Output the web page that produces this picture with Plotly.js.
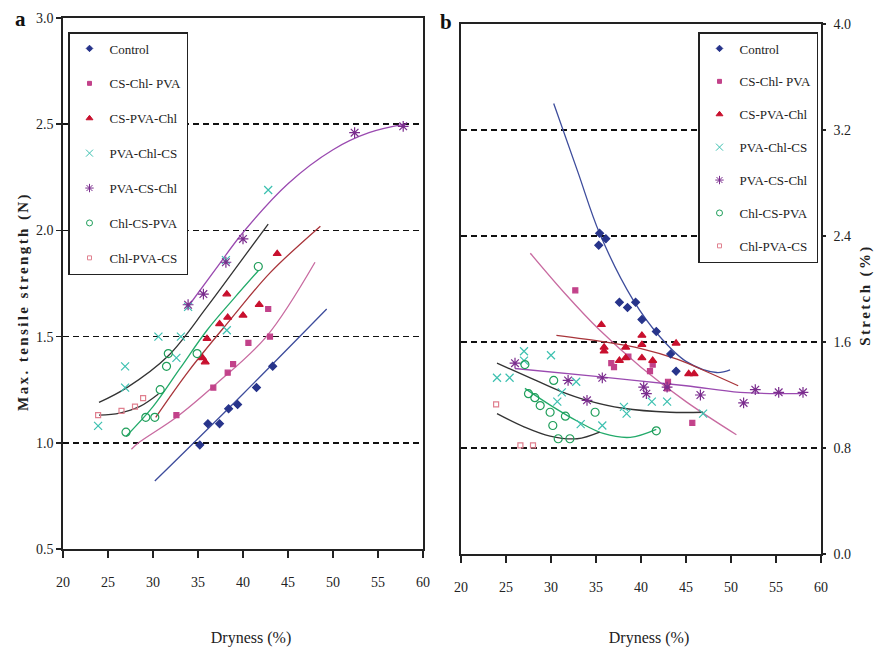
<!DOCTYPE html>
<html>
<head>
<meta charset="utf-8">
<script src="https://cdn.plot.ly/plotly-3.0.1.min.js"></script>
<style>
html,body{margin:0;padding:0;background:#fff;}
#chart{width:874px;height:653px;}
.ytitle { letter-spacing: 2.4px; translate: 0 18px; }
.y2title { letter-spacing: 2.4px; translate: 0 6px; }
.xtitle, .x2title { translate: 8px 0; }
</style>
</head>
<body>
<div id="chart"></div>
<script>
// ---------- Panel a : Max. tensile strength (N) ----------
const seriesNames = ['Control','CS-Chl- PVA','CS-PVA-Chl','PVA-Chl-CS','PVA-CS-Chl','Chl-CS-PVA','Chl-PVA-CS'];

const ctrlA_x = [35.2, 36.1, 37.4, 38.4, 39.4, 41.5, 43.3];
const ctrlA_y = [0.99, 1.09, 1.09, 1.16, 1.18, 1.26, 1.36];
const ctrlA_fx = [30.2, 40.0, 49.3];
const ctrlA_fy = [0.82, 1.23, 1.63];

const csChlPvaA_x = [32.6, 36.7, 38.3, 38.9, 40.6, 43.0, 42.8];
const csChlPvaA_y = [1.13, 1.26, 1.33, 1.37, 1.47, 1.50, 1.63];
const csChlPvaA_fx = [27.6, 28.4, 32.6, 37.1, 42.6, 48.0];
const csChlPvaA_fy = [0.97, 1.00, 1.12, 1.28, 1.50, 1.85];

const csPvaChlA_x = [35.5, 35.8, 36.0, 37.4, 38.3, 38.2, 40.0, 41.8, 43.8];
const csPvaChlA_y = [1.40, 1.38, 1.49, 1.56, 1.59, 1.70, 1.60, 1.65, 1.89];
const csPvaChlA_fx = [30.3, 34.0, 38.6, 43.0, 48.6];
const csPvaChlA_fy = [1.12, 1.34, 1.58, 1.80, 2.02];

const pvaChlCsA_x = [23.9, 26.9, 26.9, 30.6, 32.6, 33.1, 33.9, 38.2, 38.1, 42.8];
const pvaChlCsA_y = [1.08, 1.36, 1.26, 1.50, 1.40, 1.50, 1.64, 1.53, 1.86, 2.19];
const pvaChlCsA_fx = [24.0, 27.1, 31.7, 36.0, 39.5, 42.8];
const pvaChlCsA_fy = [1.19, 1.26, 1.41, 1.64, 1.84, 2.03];

const pvaCsChlA_x = [33.9, 35.6, 38.1, 40.0, 52.4, 57.8];
const pvaCsChlA_y = [1.65, 1.70, 1.85, 1.96, 2.46, 2.49];
const pvaCsChlA_fx = [33.7, 37.0, 40.0, 45.0, 50.0, 54.0, 58.0];
const pvaCsChlA_fy = [1.63, 1.82, 1.99, 2.22, 2.38, 2.46, 2.50];

const chlCsPvaA_x = [27.0, 29.2, 30.2, 30.8, 31.5, 31.7, 34.9, 41.7];
const chlCsPvaA_y = [1.05, 1.12, 1.12, 1.25, 1.36, 1.42, 1.42, 1.83];
const chlCsPvaA_fx = [27.0, 30.0, 33.0, 36.0, 39.0, 41.7];
const chlCsPvaA_fy = [1.03, 1.17, 1.35, 1.53, 1.68, 1.81];

const chlPvaCsA_x = [23.9, 26.5, 28.0, 28.9];
const chlPvaCsA_y = [1.13, 1.15, 1.17, 1.21];
const chlPvaCsA_fx = [24.0, 26.3, 28.5, 30.6];
const chlPvaCsA_fy = [1.13, 1.14, 1.17, 1.23];

// ---------- Panel b : Stretch (%) ----------
const ctrlB_x = [35.3, 35.4, 36.1, 37.6, 38.5, 39.4, 40.1, 41.7, 43.3, 43.9];
const ctrlB_y = [2.33, 2.42, 2.38, 1.90, 1.86, 1.90, 1.77, 1.68, 1.51, 1.38];
const ctrlB_fx = [30.3, 33.0, 35.4, 39.1, 42.1, 45.1, 48.4, 49.9];
const ctrlB_fy = [3.40, 2.88, 2.42, 1.92, 1.64, 1.45, 1.37, 1.39];

const csChlPvaB_x = [32.7, 36.7, 37.0, 38.6, 41.0, 41.3, 42.9, 43.0, 45.7];
const csChlPvaB_y = [1.99, 1.44, 1.41, 1.49, 1.38, 1.43, 1.25, 1.30, 0.99];
const csChlPvaB_fx = [27.7, 31.5, 35.4, 40.0, 45.0, 50.6];
const csChlPvaB_fy = [2.27, 1.97, 1.69, 1.41, 1.15, 0.90];

const csPvaChlB_x = [35.6, 35.9, 35.9, 37.6, 38.3, 38.3, 40.1, 40.1, 40.1, 41.3, 43.9, 45.3, 45.9];
const csPvaChlB_y = [1.73, 1.56, 1.53, 1.46, 1.56, 1.48, 1.65, 1.58, 1.48, 1.46, 1.59, 1.36, 1.36];
const csPvaChlB_fx = [30.6, 36.0, 40.0, 44.0, 47.5, 50.8];
const csPvaChlB_fy = [1.65, 1.60, 1.55, 1.47, 1.37, 1.27];

const pvaChlCsB_x = [24.0, 25.4, 27.0, 27.0, 30.0, 30.7, 31.2, 32.8, 33.3, 35.7, 38.1, 38.4, 41.2, 42.9, 46.9];
const pvaChlCsB_y = [1.33, 1.33, 1.53, 1.46, 1.50, 1.15, 1.22, 1.30, 0.98, 0.97, 1.11, 1.06, 1.15, 1.15, 1.06];
const pvaChlCsB_fx = [24.0, 28.0, 31.0, 34.0, 38.0, 43.2, 46.9];
const pvaChlCsB_fy = [1.44, 1.32, 1.23, 1.16, 1.10, 1.07, 1.07];

const pvaCsChlB_x = [26.0, 31.9, 34.0, 35.7, 40.3, 40.6, 42.9, 46.6, 51.4, 52.7, 55.3, 58.0];
const pvaCsChlB_y = [1.44, 1.31, 1.16, 1.33, 1.26, 1.21, 1.26, 1.20, 1.14, 1.24, 1.22, 1.22];
const pvaCsChlB_fx = [26.0, 35.0, 45.0, 51.0, 58.0];
const pvaCsChlB_fy = [1.40, 1.34, 1.27, 1.22, 1.21];

const chlCsPvaB_x = [27.1, 27.5, 28.2, 28.8, 29.9, 30.3, 30.2, 30.8, 31.6, 32.1, 34.9, 41.7];
const chlCsPvaB_y = [1.43, 1.21, 1.18, 1.12, 1.07, 1.31, 0.97, 0.87, 1.04, 0.87, 1.07, 0.93];
const chlCsPvaB_fx = [27.1, 30.0, 33.0, 35.8, 38.8, 41.7];
const chlCsPvaB_fy = [1.25, 1.12, 1.00, 0.91, 0.88, 0.94];

const chlPvaCsB_x = [23.9, 26.6, 28.0];
const chlPvaCsB_y = [1.13, 0.82, 0.82];
const chlPvaCsB_fx = [24.0, 27.0, 29.9, 32.9, 35.4];
const chlPvaCsB_fy = [1.06, 0.96, 0.89, 0.87, 0.92];

const xTicks = [20, 25, 30, 35, 40, 45, 50, 55, 60];
const yTicksA = [0.5, 1.0, 1.5, 2.0, 2.5, 3.0];
const yTicksB = [0.0, 0.8, 1.6, 2.4, 3.2, 4.0];

// ---------- styles ----------
const markerStyles = [
  {symbol:'diamond', size:6, color:'#27348b'},
  {symbol:'square', size:5, color:'#c2428a'},
  {symbol:'triangle-up', size:7, color:'#c8102e'},
  {symbol:'x-thin-open', size:8, color:'#3cc0b0'},
  {symbol:'asterisk-open', size:9, color:'#7b2d8e'},
  {symbol:'circle-open', size:8, color:'#1f9e5a'},
  {symbol:'square-open', size:5, color:'#e0808f'}
];
const legendSizes = [5, 4, 6, 7, 7, 6, 4];
const lineColors = ['#3d4c9c','#c86aa0','#a8343a','#333333','#9a4ab0','#22aa6a','#333333'];

const panelA = [
  [ctrlA_x, ctrlA_y, ctrlA_fx, ctrlA_fy],
  [csChlPvaA_x, csChlPvaA_y, csChlPvaA_fx, csChlPvaA_fy],
  [csPvaChlA_x, csPvaChlA_y, csPvaChlA_fx, csPvaChlA_fy],
  [pvaChlCsA_x, pvaChlCsA_y, pvaChlCsA_fx, pvaChlCsA_fy],
  [pvaCsChlA_x, pvaCsChlA_y, pvaCsChlA_fx, pvaCsChlA_fy],
  [chlCsPvaA_x, chlCsPvaA_y, chlCsPvaA_fx, chlCsPvaA_fy],
  [chlPvaCsA_x, chlPvaCsA_y, chlPvaCsA_fx, chlPvaCsA_fy]
];
const panelB = [
  [ctrlB_x, ctrlB_y, ctrlB_fx, ctrlB_fy],
  [csChlPvaB_x, csChlPvaB_y, csChlPvaB_fx, csChlPvaB_fy],
  [csPvaChlB_x, csPvaChlB_y, csPvaChlB_fx, csPvaChlB_fy],
  [pvaChlCsB_x, pvaChlCsB_y, pvaChlCsB_fx, pvaChlCsB_fy],
  [pvaCsChlB_x, pvaCsChlB_y, pvaCsChlB_fx, pvaCsChlB_fy],
  [chlCsPvaB_x, chlCsPvaB_y, chlCsPvaB_fx, chlCsPvaB_fy],
  [chlPvaCsB_x, chlPvaCsB_y, chlPvaCsB_fx, chlPvaCsB_fy]
];

const traces = [];
function addPanel(panel, xa, ya, leg, tag) {
  panel.forEach((s, i) => {
    traces.push({x:s[2], y:s[3], xaxis:xa, yaxis:ya, mode:'lines', type:'scatter',
      line:{color:lineColors[i], width:1.3, shape:'spline', smoothing:1},
      showlegend:false, hoverinfo:'skip'});
  });
  panel.forEach((s, i) => {
    const m = markerStyles[i];
    traces.push({x:s[0], y:s[1], xaxis:xa, yaxis:ya, mode:'markers', type:'scatter',
      name:seriesNames[i], showlegend:false,
      marker:{symbol:m.symbol, size:m.size, color:m.color, line:{color:m.color, width:1.2}}});
  });
  // legend entries (small key symbols, as in the original)
  panel.forEach((s, i) => {
    const m = markerStyles[i];
    traces.push({x:[null], y:[null], xaxis:xa, yaxis:ya, mode:'markers', type:'scatter',
      name:seriesNames[i], legend:leg, legendgroup:tag+i, showlegend:true,
      marker:{symbol:m.symbol, size:legendSizes[i], color:m.color, line:{color:m.color, width:1}}});
  });
}
addPanel(panelA, 'x', 'y', 'legend', 'a');
addPanel(panelB, 'x2', 'y2', 'legend2', 'b');

const W = 874, H = 653;
const SERIF = '"Liberation Serif", serif';
const tf = {family:SERIF, size:14, color:'#222'};
const axisCommon = {
  showline:true, linecolor:'#222', linewidth:1.8, mirror:true,
  ticks:'outside', tickcolor:'#222', tickwidth:1.5, zeroline:false, tickfont:tf
};
const legendCommon = {
  bgcolor:'#ffffff', bordercolor:'#222', borderwidth:1.5,
  font:{family:SERIF, size:13, color:'#222'},
  itemwidth:30, yanchor:'top', traceorder:'grouped'
};

const layout = {
  width:W, height:H,
  margin:{l:0, r:0, t:0, b:0},
  paper_bgcolor:'#ffffff', plot_bgcolor:'#ffffff',
  showlegend:true,
  xaxis: Object.assign({}, axisCommon, {
    domain:[63/W, 423/W], range:[20,60], tickvals:xTicks, ticklen:7, ticklabelstandoff:12,
    showgrid:false, anchor:'y',
    title:{text:'Dryness (%)', font:{family:SERIF, size:16, color:'#222'}, standoff:43}
  }),
  yaxis: Object.assign({}, axisCommon, {
    domain:[(H-549)/H, (H-18)/H], range:[0.5,3.0], tickvals:yTicksA, tickformat:'.1f', ticklen:5,
    showgrid:true, gridcolor:'#111', gridwidth:1.5, griddash:'6px,4px', anchor:'x',
    title:{text:'Max. tensile strength (N)', font:{family:SERIF, size:15, color:'#222', weight:'bold'}, standoff:4}
  }),
  xaxis2: Object.assign({}, axisCommon, {
    domain:[461/W, 821/W], range:[20,60], tickvals:xTicks, ticklen:7, ticklabelstandoff:12,
    showgrid:false, anchor:'y2',
    title:{text:'Dryness (%)', font:{family:SERIF, size:16, color:'#222'}, standoff:38}
  }),
  yaxis2: Object.assign({}, axisCommon, {
    domain:[(H-554)/H, (H-24)/H], range:[0,4.0], tickvals:yTicksB, tickformat:'.1f', ticklen:3,
    side:'right', ticklabelstandoff:5,
    showgrid:true, gridcolor:'#111', gridwidth:1.5, griddash:'6px,4px', anchor:'x2',
    title:{text:'Stretch (%)', font:{family:SERIF, size:15, color:'#222', weight:'bold'}, standoff:10}
  }),
  legend: Object.assign({}, legendCommon, {x:68/W, xanchor:'left', y:(H-32)/H, tracegroupgap:15}),
  legend2: Object.assign({}, legendCommon, {x:818/W, xanchor:'right', y:(H-32)/H, tracegroupgap:13}),
  annotations:[
    {text:'<b>a</b>', xref:'paper', yref:'paper', x:20/W, y:(H-19)/H, xanchor:'center', yanchor:'middle', showarrow:false,
     font:{family:SERIF, size:21, color:'#111'}},
    {text:'<b>b</b>', xref:'paper', yref:'paper', x:446/W, y:(H-22)/H, xanchor:'center', yanchor:'middle', showarrow:false,
     font:{family:SERIF, size:21, color:'#111'}}
  ]
};

Plotly.newPlot('chart', traces, layout, {displayModeBar:false, staticPlot:true});
</script>
</body>
</html>
